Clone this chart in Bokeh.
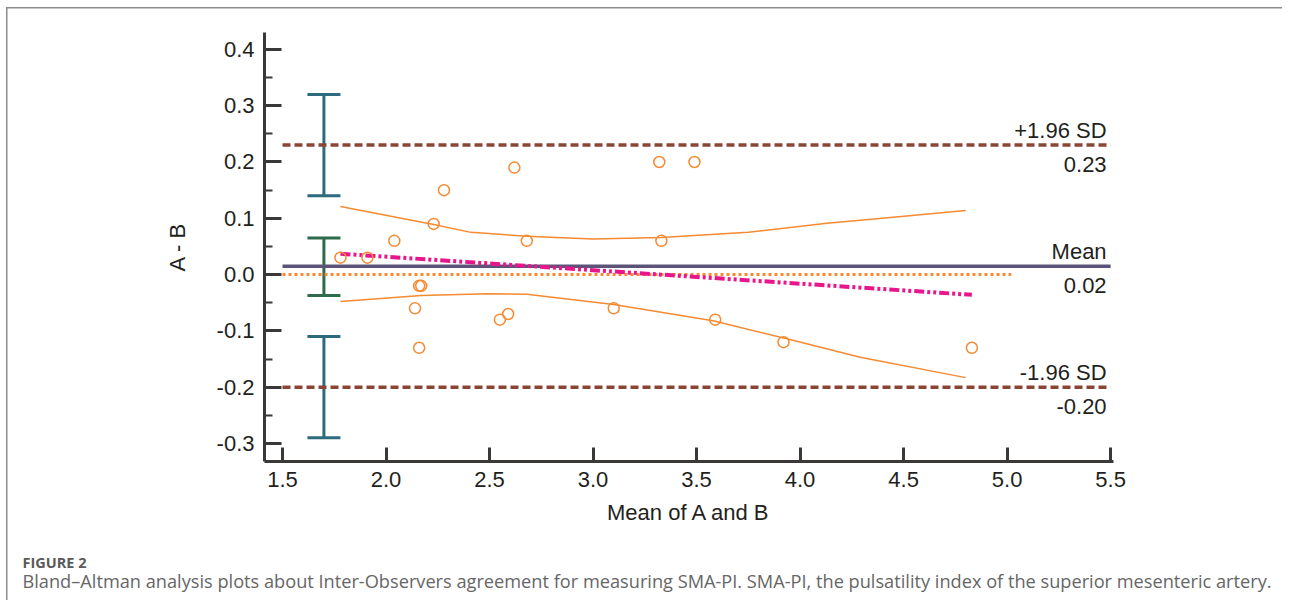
from bokeh.plotting import figure
from bokeh.models import (ColumnDataSource, Whisker, TeeHead, Label, SingleIntervalTicker,
                          Range1d, PrintfTickFormatter, Title)
from bokeh.embed import file_html
from bokeh.resources import INLINE

# ---------------- data ----------------
mean_ab = [1.78, 1.91, 2.04, 2.23, 2.28, 2.62, 2.68, 3.32, 3.49, 3.33,
           2.16, 2.17, 2.14, 2.16, 2.55, 2.59, 3.10, 3.59, 3.92, 4.83]
diff_ab = [0.03, 0.03, 0.06, 0.09, 0.15, 0.19, 0.06, 0.20, 0.20, 0.06,
           -0.02, -0.02, -0.06, -0.13, -0.08, -0.07, -0.06, -0.08, -0.12, -0.13]

mean_diff = 0.015
upper_loa = 0.23
lower_loa = -0.20
ref_x = [1.5, 5.5]
zero_x = [1.5, 5.02]
zero_y = [0.0, 0.0]

reg_x = [1.78, 4.83]
reg_y = [0.037, -0.036]

ci_up_x = [1.78, 2.23, 2.41, 2.68, 3.00, 3.33, 3.75, 4.13, 4.45, 4.80]
ci_up_y = [0.121, 0.089, 0.075, 0.068, 0.063, 0.066, 0.075, 0.091, 0.102, 0.114]
ci_lo_x = [1.78, 2.17, 2.49, 2.68, 3.10, 3.58, 3.97, 4.29, 4.80]
ci_lo_y = [-0.048, -0.037, -0.034, -0.035, -0.053, -0.082, -0.117, -0.147, -0.183]

loa_bar_x = [1.7, 1.7]
loa_bar_lo = [0.14, -0.29]
loa_bar_hi = [0.32, -0.11]
mean_bar_x = [1.7]
mean_bar_lo = [-0.037]
mean_bar_hi = [0.065]

line_labels_above = ["+1.96 SD", "Mean", "-1.96 SD"]
line_labels_below = ["0.23", "0.02", "-0.20"]
line_values = [upper_loa, mean_diff, lower_loa]

caption_head = "FIGURE 2"
caption_text = ("Bland\u2013Altman analysis plots about Inter-Observers agreement for measuring "
                "SMA-PI. SMA-PI, the pulsatility index of the superior mesenteric artery.")

# ---------------- styles ----------------
ORANGE = "#f58a32"
BROWN = "#8a4534"
SLATE = "#5b5478"
PINK = "#e8168c"
TEAL = "#2b6b7d"
GREEN = "#2f6a4c"
AXIS = "#3b3838"
FONT = "Liberation Sans"
FRAME = "#8c8c8c"

p = figure(width=1282, height=600, output_backend="svg", toolbar_location=None,
           x_range=Range1d(1.413, 5.514), y_range=Range1d(-0.332, 0.430),
           min_border_left=264, min_border_right=169, min_border_top=32, min_border_bottom=139,
           background_fill_color="white", border_fill_alpha=0)
p.outline_line_color = None
p.grid.visible = False
# thin page frame on the left and top edges, drawn behind the transparent border area
p.styles = {
    "background": (f"linear-gradient({FRAME},{FRAME}) 6px 7px / 1.5px 100% no-repeat, "
                   f"linear-gradient({FRAME},{FRAME}) 6px 7px / 100% 1.5px no-repeat, white"),
}

# axes
for ax in (p.xaxis[0], p.yaxis[0]):
    ax.axis_line_width = 3
    ax.axis_line_color = AXIS
    ax.major_tick_line_width = 3
    ax.major_tick_line_color = AXIS
    ax.minor_tick_line_width = 2
    ax.minor_tick_line_color = AXIS
    ax.major_tick_out = 0
    ax.minor_tick_out = 0
    ax.major_label_text_font = FONT
    ax.major_label_text_font_size = "22px"
    ax.major_label_text_color = "#231f20"
    ax.axis_label_text_font = FONT
    ax.axis_label_text_font_size = "22px"
    ax.axis_label_text_font_style = "normal"
    ax.axis_label_text_color = "#231f20"
    ax.formatter = PrintfTickFormatter(format="%.1f")

p.xaxis.ticker = SingleIntervalTicker(interval=0.5, num_minor_ticks=0)
p.xaxis.major_tick_in = 14
p.xaxis.minor_tick_in = 0
p.xaxis.major_label_standoff = 10
p.xaxis.axis_label = "Mean of A and B"
p.xaxis.axis_label_standoff = 10

p.yaxis.ticker = SingleIntervalTicker(interval=0.1, num_minor_ticks=2)
p.yaxis.major_tick_in = 17
p.yaxis.minor_tick_in = 8
p.yaxis.major_label_standoff = 10
p.yaxis.axis_label = "A - B"
p.yaxis.axis_label_standoff = 24

# reference lines
p.line(ref_x, [upper_loa, upper_loa], line_color=BROWN, line_width=3.5, line_dash="8 4")
p.line(ref_x, [lower_loa, lower_loa], line_color=BROWN, line_width=3.5, line_dash="8 4")
p.line(zero_x, zero_y, line_color=ORANGE, line_width=3, line_dash="3 3")
p.line(ref_x, [mean_diff, mean_diff], line_color=SLATE, line_width=3.5)

# confidence curves & regression
p.line(ci_up_x, ci_up_y, line_color=ORANGE, line_width=1.5)
p.line(ci_lo_x, ci_lo_y, line_color=ORANGE, line_width=1.5)
p.line(reg_x, reg_y, line_color=PINK, line_width=4, line_dash="10 3 3 3 3 3")

# points
p.scatter(mean_ab, diff_ab, size=11, marker="circle", fill_color=None,
          line_color=ORANGE, line_width=1.5)

# error bars
src_loa = ColumnDataSource(dict(x=loa_bar_x, lo=loa_bar_lo, hi=loa_bar_hi))
src_mean = ColumnDataSource(dict(x=mean_bar_x, lo=mean_bar_lo, hi=mean_bar_hi))
for src, col in ((src_loa, TEAL), (src_mean, GREEN)):
    w = Whisker(source=src, base="x", lower="lo", upper="hi", dimension="height",
                line_color=col, line_width=3,
                upper_head=TeeHead(size=33, line_color=col, line_width=3),
                lower_head=TeeHead(size=33, line_color=col, line_width=3))
    p.add_layout(w)

# line labels
for txt, val in zip(line_labels_above, line_values):
    p.add_layout(Label(x=5.5, y=val, x_offset=-4, y_offset=15, text=txt, text_align="right",
                       text_baseline="middle", text_font=FONT, text_font_size="22px",
                       text_color="#231f20"))
for txt, val in zip(line_labels_below, line_values):
    p.add_layout(Label(x=5.5, y=val, x_offset=-4, y_offset=-19.5, text=txt, text_align="right",
                       text_baseline="middle", text_font=FONT, text_font_size="22px",
                       text_color="#231f20"))

# caption as titles below the plot
p.add_layout(Title(text=caption_head, align="left", offset=-242, standoff=46,
                   text_font="Open Sans", text_font_size="14.5px", text_font_style="bold",
                   text_color="#5a5a5a"), "below")
p.add_layout(Title(text=caption_text, align="left", offset=-242, standoff=-52,
                   vertical_align="top",
                   text_font="Open Sans", text_font_size="18.2px", text_font_style="normal",
                   text_color="#666666"), "below")

open("out.html", "w").write(file_html(p, INLINE))
